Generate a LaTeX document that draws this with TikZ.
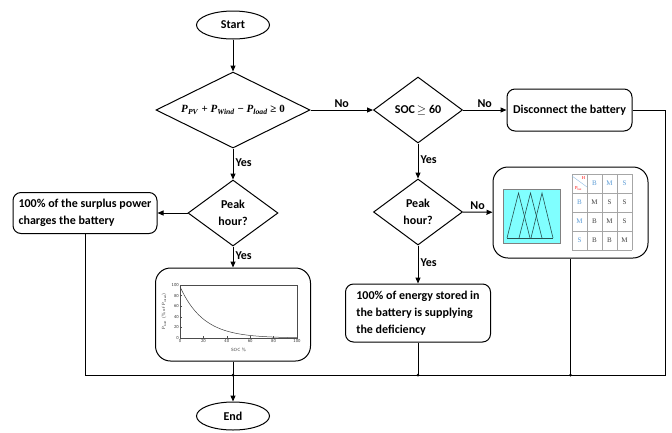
\documentclass[tikz,border=0pt]{standalone}
\usepackage{fontspec}
\setmainfont{Carlito}
\newfontfamily\cellfont{Liberation Serif}
\usepackage{amsmath}
\usetikzlibrary{shapes.geometric, arrows.meta}

\definecolor{cellblue}{RGB}{91,155,213}
\definecolor{fuzzycyan}{RGB}{128,255,255}
\definecolor{mfline}{RGB}{40,80,80}

\newcommand{\pwr}[1]{\textit{P}\textsubscript{\textit{#1}}}

\tikzset{
  flowline/.style={line width=1pt},
  flowarrow/.style={line width=1pt, -{Triangle[length=6pt,width=5pt]}},
  terminal/.style={draw, line width=1pt, ellipse, minimum width=73pt, minimum height=28pt, inner sep=0pt},
  decision/.style={draw, line width=1pt, diamond, shape aspect=2, inner sep=0pt, align=center},
  process/.style={draw, line width=1pt, rectangle, rounded corners=8pt, align=left, inner sep=0pt},
  panel/.style={draw, line width=1pt, rectangle, rounded corners=15pt, inner sep=0pt},
  yesno/.style={inner sep=2pt},
  cell/.style={font=\cellfont\fontsize{7}{8}\selectfont, text=black!75},
  tick/.style={font=\sffamily\fontsize{4.5}{5}\selectfont, text=black!80, inner sep=1pt},
}

\begin{document}
\begin{tikzpicture}[x=1pt, y=-1pt, font=\bfseries\fontsize{12}{17}\selectfont]

  \useasboundingbox (0,0) rectangle (672,432);

  % main column
  \node[terminal] (start) at (233,25) {Start};
  \node[decision, minimum width=154pt, minimum height=76pt, font=\cellfont\bfseries\fontsize{11}{12}\selectfont] (dsurplus) at (233,110) {\pwr{PV} + \pwr{Wind} − \pwr{load} ≥ 0};
  \node[decision, minimum width=90pt, minimum height=66pt] (dpeakA) at (233,213) {Peak\\hour?};
  \node[process, minimum width=144pt, minimum height=41pt] (charge) at (85,213) {100\% of the surplus power\\charges the battery};
  \node[panel, minimum width=155pt, minimum height=93pt] (plotbox) at (233,314.5) {};
  \node[terminal] (finish) at (233,416) {End};

  % right column
  \node[decision, minimum width=89pt, minimum height=66pt] (dsoc) at (418,110) {SOC$\,\geq$ 60};
  \node[process, minimum width=125pt, minimum height=42pt, align=center] (disconnect) at (569.5,110) {Disconnect the battery};
  \node[decision, minimum width=89pt, minimum height=66pt] (dpeakB) at (418,212) {Peak\\hour?};
  \node[process, minimum width=145pt, minimum height=58pt] (supply) at (418,313) {100\% of energy stored in\\the battery is supplying\\the deficiency};
  \node[panel, minimum width=155pt, minimum height=91pt] (fuzzybox) at (570.5,212.5) {};

  % bus to End
  \coordinate (jL) at (85,375);
  \coordinate (jA) at (233,375);
  \coordinate (jB) at (418,375);
  \coordinate (jC) at (570.5,375);
  \coordinate (jR) at (665,375);
  \coordinate (cR) at (665,110);

  % connectors
  \draw[flowarrow] (start) -- (dsurplus);
  \draw[flowarrow] (dsurplus) -- node[yesno, pos=0.45, right] {Yes} (dpeakA);
  \draw[flowarrow] (dpeakA) -- (charge);
  \draw[flowarrow] (dpeakA) -- node[yesno, pos=0.45, right] {Yes} (plotbox);
  \draw[flowarrow] (dsurplus) -- node[yesno, above] {No} (dsoc);
  \draw[flowarrow] (dsoc) -- node[yesno, above] {No} (disconnect);
  \draw[flowarrow] (dsoc) -- node[yesno, pos=0.45, right] {Yes} (dpeakB);
  \draw[flowarrow] (dpeakB) -- node[yesno, above] {No} (fuzzybox);
  \draw[flowarrow] (dpeakB) -- node[yesno, pos=0.45, right] {Yes} (supply);

  \draw[flowline] (charge.south) -- (jL) -- (jR) -- (cR) -- (disconnect.east);
  \draw[flowline] (plotbox) -- (jA);
  \draw[flowline] (supply) -- (jB);
  \draw[flowline] (fuzzybox) -- (jC);
  \draw[flowarrow] (jA) -- (finish);
  \fill (jA) circle (1.5pt);
  \fill (jB) circle (1.5pt);
  \fill (jC) circle (1.5pt);

  % battery power curve
  \draw[line width=0.4pt, black!70] (180,285) rectangle (297,338);
  \foreach \s in {0,20,...,100} {
    \draw[line width=0.3pt, black!70] ({180+1.17*\s},338) -- ({180+1.17*\s},336);
    \node[tick, anchor=north] at ({180+1.17*\s},338.5) {\s};
    \draw[line width=0.3pt, black!70] (180,{338-0.53*\s}) -- (182,{338-0.53*\s});
    \node[tick, anchor=east] at (180,{338-0.53*\s}) {\s};
  }
  \draw[line width=0.5pt, black!75, domain=0:100, samples=50] plot ({180+1.17*\x},{338-0.53*97*exp(-\x/20)});
  \node[tick] at (238.5,350) {SOC \%};
  \node[tick, rotate=90] at (164,311.5) {P\textsubscript{batt} (\% of P\textsubscript{rated})};

  % membership functions
  \draw[gray, fill=fuzzycyan] (503,189) rectangle (560,243);
  \draw[mfline, line width=0.6pt] (507,238) -- (553,238);
  \draw[mfline, line width=0.6pt] (507,238) -- (518.5,193) -- (530,238);
  \draw[mfline, line width=0.6pt] (519,238) -- (530.5,193) -- (542,238);
  \draw[mfline, line width=0.6pt] (531,238) -- (542,193) -- (553,238);

  % rule table
  \foreach \c in {572,587,602,617,632}
    \draw[gray!70, line width=0.5pt] (\c,174) -- (\c,250);
  \foreach \r in {174,193,212,231,250}
    \draw[gray!70, line width=0.5pt] (572,\r) -- (632,\r);
  \draw[cellblue!70, line width=0.4pt] (572,176) -- (587,187);
  \node[font=\cellfont\fontsize{4.5}{5}\selectfont, text=red, inner sep=0pt] (hdrH) at (583.5,178.5) {H};
  \node[font=\cellfont\fontsize{4.5}{5}\selectfont, text=red, inner sep=0pt] (hdrP) at (578.5,189) {P\textsubscript{bat}};
  \node[cell, text=cellblue] (t12) at (594.5,183.5) {B};
  \node[cell, text=cellblue] (t13) at (609.5,183.5) {M};
  \node[cell, text=cellblue] (t14) at (624.5,183.5) {S};
  \node[cell, text=cellblue] (t21) at (579.5,202.5) {B};
  \node[cell] (t22) at (594.5,202.5) {M};
  \node[cell] (t23) at (609.5,202.5) {S};
  \node[cell] (t24) at (624.5,202.5) {S};
  \node[cell, text=cellblue] (t31) at (579.5,221.5) {M};
  \node[cell] (t32) at (594.5,221.5) {B};
  \node[cell] (t33) at (609.5,221.5) {M};
  \node[cell] (t34) at (624.5,221.5) {S};
  \node[cell, text=cellblue] (t41) at (579.5,240.5) {S};
  \node[cell] (t42) at (594.5,240.5) {B};
  \node[cell] (t43) at (609.5,240.5) {B};
  \node[cell] (t44) at (624.5,240.5) {M};

\end{tikzpicture}
\end{document}
